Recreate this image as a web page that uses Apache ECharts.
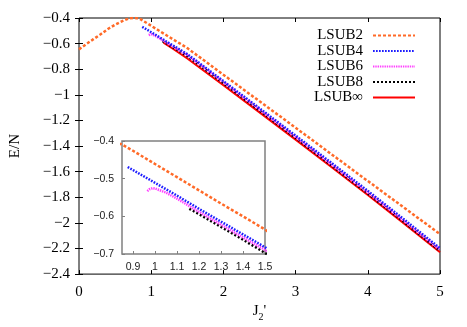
<!DOCTYPE html>
<html><head><meta charset="utf-8">
<script src="https://cdn.jsdelivr.net/npm/echarts@6/dist/echarts.min.js"></script>
<style>html,body{margin:0;padding:0;background:#fff}#c{width:467px;height:327px}</style>
</head><body><div id="c"></div>
<script>
const names = ['LSUB2', 'LSUB4', 'LSUB6', 'LSUB8', 'LSUB\u221E'];

const lsub2X = [0, 0.1, 0.2, 0.3, 0.4, 0.5, 0.6, 0.65, 0.7, 0.75, 0.8, 0.85, 0.9, 1.0, 1.1, 1.2, 1.3, 1.4, 1.5, 2, 2.5, 3, 3.5, 4, 4.5, 5];
const lsub2Y = [-0.645, -0.604, -0.565, -0.527, -0.486, -0.452, -0.424, -0.412, -0.403, -0.400, -0.401, -0.409, -0.426, -0.461, -0.496, -0.531, -0.566, -0.600, -0.635, -0.843, -1.050, -1.257, -1.465, -1.673, -1.880, -2.088];

const lsub4X = [0.876, 0.9, 1.0, 1.1, 1.2, 1.3, 1.4, 1.5, 2, 2.5, 3, 3.5, 4, 4.5, 5];
const lsub4Y = [-0.469, -0.477, -0.511, -0.545, -0.580, -0.614, -0.648, -0.682, -0.893, -1.105, -1.318, -1.533, -1.750, -1.972, -2.198];

const lsub6X = [0.965, 0.975, 0.99, 1.0, 1.05, 1.1, 1.2, 1.3, 1.4, 1.5, 2, 2.5, 3, 3.5, 4, 4.5, 5];
const lsub6Y = [-0.533, -0.528, -0.525, -0.526, -0.537, -0.553, -0.588, -0.622, -0.656, -0.689, -0.900, -1.114, -1.328, -1.544, -1.762, -1.984, -2.210];

const lsub8X = [1.156, 1.2, 1.3, 1.4, 1.5, 2, 2.5, 3, 3.5, 4, 4.5, 5];
const lsub8Y = [-0.580, -0.594, -0.628, -0.662, -0.697, -0.908, -1.122, -1.336, -1.552, -1.770, -1.992, -2.218];

const lsubInfX = [1.17, 1.3, 1.5, 2, 2.5, 3, 3.5, 4, 4.5, 5];
const lsubInfY = [-0.592, -0.640, -0.716, -0.925, -1.137, -1.350, -1.565, -1.782, -2.004, -2.229];

const mainXRange = [0, 5];
const mainYRange = [-2.4, -0.4];
const insetXRange = [0.85, 1.5];
const insetYRange = [-0.7, -0.4];
const insetXTicks = [0.9, 1.0, 1.1, 1.2, 1.3, 1.4, 1.5];

const seriesX = [lsub2X, lsub4X, lsub6X, lsub8X, lsubInfX];
const seriesY = [lsub2Y, lsub4Y, lsub6Y, lsub8Y, lsubInfY];

const styles = [
  {color: '#FF6A28', type: [3, 2], width: 2.5},
  {color: '#1E1EFF', type: [1.7, 1.3], width: 2.5},
  {color: '#FF40FF', type: [1.4, 0.9], width: 2.5},
  {color: '#000000', type: [2, 2], width: 2.5},
  {color: '#FF0000', type: 'solid', width: 2}
];

function pairs(xs, ys) { return xs.map((x, i) => [x, ys[i]]); }
const fmt = v => { const a = parseFloat(Math.abs(v).toFixed(2)); return (v < 0 ? '\u2212' : '') + a; };

const serif = 'Liberation Serif';
const sans = 'Liberation Sans';

const series = [];
names.forEach((n, i) => {
  series.push({
    name: n, type: 'line', xAxisIndex: 0, yAxisIndex: 0, symbol: 'none',
    data: pairs(seriesX[i], seriesY[i]),
    lineStyle: styles[i], itemStyle: {color: styles[i].color}, z: 10 - i, silent: true
  });
});
// inset: LSUB2 .. LSUB8
for (let i = 0; i < 4; i++) {
  series.push({
    name: names[i], type: 'line', xAxisIndex: 2, yAxisIndex: 2, symbol: 'none', clip: true,
    data: pairs(seriesX[i], seriesY[i]),
    lineStyle: styles[i], itemStyle: {color: styles[i].color}, z: 10 - i, silent: true
  });
}

const chart = echarts.init(document.getElementById('c'), null, {renderer: 'canvas'});
chart.setOption({
  animation: false,
  backgroundColor: '#fff',
  grid: [
    {left: 79, top: 18, width: 361, height: 261, show: true, borderColor: '#000', borderWidth: 1, backgroundColor: 'transparent'},
    {left: 122, top: 141, width: 143, height: 113, show: true, borderColor: '#808080', borderWidth: 1.5, backgroundColor: '#fff'}
  ],
  legend: {
    orient: 'vertical', align: 'right', right: 46, top: 23,
    itemWidth: 42, itemHeight: 8, itemGap: 0.5,
    data: names,
    textStyle: {fontFamily: serif, fontSize: 15, color: '#000', lineHeight: 15, padding: [0, 5, 0, 0]},
    itemStyle: {opacity: 0},
    selectedMode: false
  },
  xAxis: [
    {gridIndex: 0, type: 'value', min: mainXRange[0], max: mainXRange[1], interval: 1, position: 'bottom',
     axisLine: {show: false}, axisTick: {inside: true, length: 4, lineStyle: {color: '#000'}},
     axisLabel: {fontFamily: serif, fontSize: 15, color: '#000', margin: 10},
     splitLine: {show: false},
     name: '{j|J}{s|2}{j|\'}', nameLocation: 'middle', nameGap: 18,
     nameTextStyle: {rich: {
       j: {fontFamily: serif, fontSize: 15, color: '#000', lineHeight: 18, verticalAlign: 'top'},
       s: {fontFamily: serif, fontSize: 10, color: '#000', lineHeight: 10, verticalAlign: 'bottom'}
     }}},
    {gridIndex: 0, type: 'value', min: mainXRange[0], max: mainXRange[1], interval: 1, position: 'top',
     axisLine: {show: false}, axisTick: {inside: true, length: 4, lineStyle: {color: '#000'}},
     axisLabel: {show: false}, splitLine: {show: false}},
    {gridIndex: 1, type: 'value', min: insetXRange[0], max: insetXRange[1], position: 'bottom',
     axisLine: {show: false},
     axisTick: {inside: true, length: 3, customValues: insetXTicks, lineStyle: {color: '#808080'}},
     axisLabel: {customValues: insetXTicks, formatter: fmt, fontFamily: sans, fontSize: 10.5, color: '#222', margin: 8},
     splitLine: {show: false}}
  ],
  yAxis: [
    {gridIndex: 0, type: 'value', min: mainYRange[0], max: mainYRange[1], interval: 0.2, position: 'left',
     axisLine: {show: false}, axisTick: {inside: true, length: 4, lineStyle: {color: '#000'}},
     axisLabel: {formatter: fmt, fontFamily: serif, fontSize: 15, color: '#000', margin: 9},
     splitLine: {show: false},
     name: 'E/N', nameLocation: 'middle', nameGap: 56,
     nameTextStyle: {fontFamily: serif, fontSize: 15, color: '#000'}},
    {gridIndex: 0, type: 'value', min: mainYRange[0], max: mainYRange[1], interval: 0.2, position: 'right',
     axisLine: {show: false}, axisTick: {inside: true, length: 4, lineStyle: {color: '#000'}},
     axisLabel: {show: false}, splitLine: {show: false}},
    {gridIndex: 1, type: 'value', min: insetYRange[0], max: insetYRange[1], interval: 0.1, position: 'left',
     axisLine: {show: false}, axisTick: {inside: true, length: 3, lineStyle: {color: '#808080'}},
     axisLabel: {formatter: fmt, fontFamily: sans, fontSize: 10.5, color: '#222', margin: 8},
     splitLine: {show: false}}
  ],
  series: series
});
</script>
</body></html>
